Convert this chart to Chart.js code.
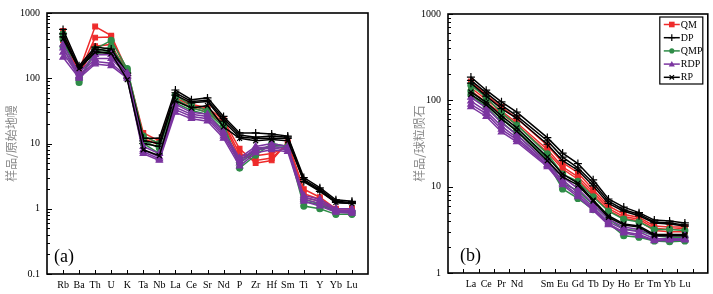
<!DOCTYPE html>
<html>
<head>
<meta charset="utf-8">
<script src="https://cdn.jsdelivr.net/npm/chart.js@4.4.0/dist/chart.umd.min.js"></script>
<style>
  body { margin: 0; background: #fff; }
  #wrap { position: relative; width: 713px; height: 294px; }
  #ca { position: absolute; left: 0; top: 0; }
  #cb { position: absolute; left: 380px; top: 0; }
</style>
</head>
<body>
<div id="wrap">
  <canvas id="ca" width="380" height="294"></canvas>
  <canvas id="cb" width="333" height="294"></canvas>
</div>
<script>
// categories
const spiderLabels = ['Rb','Ba','Th','U','K','Ta','Nb','La','Ce','Sr','Nd','P','Zr','Hf','Sm','Ti','Y','Yb','Lu'];
const reeLabels = ['La','Ce','Pr','Nd','Sm','Eu','Gd','Tb','Dy','Ho','Er','Tm','Yb','Lu'];

// (a) primitive-mantle normalised, one row per sample
const qmSpider = [
  [530, 130, 620, 450, 130, 14.5, 11, 55, 40, 35, 23, 8.3, 5.0, 5.5, 10.5, 2.0, 1.5, 1.0, 1.0],
  [450, 120, 420, 430, 120, 13, 10, 50, 38, 33, 21, 7.0, 5.5, 6.0, 10, 1.7, 1.4, 0.95, 0.95],
  [380, 115, 310, 330, 115, 12, 9.5, 45, 36, 30, 20, 6.0, 6.5, 7.0, 9.0, 1.5, 1.3, 0.9, 0.9]
];
const dpSpider = [
  [560, 155, 300, 280, 120, 12, 12, 66, 47, 50, 26, 14.5, 14.5, 14, 13, 3.0, 2.1, 1.37, 1.3],
  [480, 145, 280, 260, 110, 11, 10, 60, 44, 46, 24, 13.5, 12.5, 13, 12.5, 2.8, 2.0, 1.3, 1.25],
  [430, 140, 260, 240, 100, 10, 9, 55, 42, 44, 22, 12.5, 12, 12, 12, 2.6, 1.85, 1.25, 1.2]
];
const qmpSpider = [
  [480, 86, 280, 380, 140, 13, 10, 55, 38, 32, 20, 4.2, 6.6, 10, 9.0, 1.1, 1.0, 0.82, 0.82],
  [400, 95, 260, 300, 130, 11, 8.5, 48, 35, 30, 18, 5.0, 7.5, 9.5, 9.0, 1.3, 1.15, 0.9, 0.88],
  [300, 100, 240, 260, 120, 10, 7, 42, 32, 28, 16, 5.5, 8.0, 9.0, 8.5, 1.4, 1.2, 0.92, 0.9]
];
const rdpSpider = [
  [330, 120, 230, 230, 120, 9, 7, 40, 30, 28, 15, 6.0, 9.0, 10, 9.0, 1.6, 1.4, 1.0, 1.0],
  [290, 110, 200, 200, 110, 8, 6.2, 36, 28, 26, 14, 5.5, 8.5, 9.0, 8.5, 1.5, 1.3, 0.95, 0.95],
  [250, 105, 180, 170, 105, 7.5, 5.8, 33, 26, 24, 13, 5.0, 8.0, 8.5, 8.0, 1.4, 1.2, 0.92, 0.9],
  [210, 100, 165, 155, 100, 7, 5.5, 30, 24, 22, 12, 4.5, 7.2, 8.0, 7.5, 1.3, 1.1, 0.88, 0.85]
];
const rpSpider = [
  [400, 140, 250, 240, 95, 8, 6.5, 45, 35, 38, 18, 12, 11, 11.5, 11, 2.7, 1.9, 1.25, 1.2]
];

// (b) chondrite normalised REE
const qmRee = [
  [165, 115, 84, 62, 30, 19, 14.5, 9.2, 6.0, 4.8, 4.4, 3.5, 3.4, 3.4],
  [140, 102, 75, 55, 27, 17, 13, 8.6, 5.6, 4.5, 4.2, 3.3, 3.2, 3.3],
  [130, 95, 70, 52, 25, 16, 12.2, 8.0, 5.3, 4.3, 4.0, 3.1, 3.0, 3.0]
];
const dpRee = [
  [186, 131, 96, 73, 37, 24.5, 18.5, 12, 7.2, 5.8, 5.0, 4.1, 4.0, 3.8],
  [170, 122, 88, 66, 34, 22, 16.5, 11, 6.8, 5.4, 4.8, 3.9, 3.8, 3.6],
  [158, 112, 80, 62, 31, 20, 15.5, 10.2, 6.4, 5.2, 4.6, 3.8, 3.7, 3.5]
];
const qmpRee = [
  [150, 108, 72, 52, 24, 14, 11.5, 7.6, 5.2, 4.2, 3.9, 3.2, 3.2, 3.1],
  [128, 92, 62, 45, 21, 11, 9.0, 6.2, 4.2, 3.2, 3.1, 2.7, 2.6, 2.6],
  [115, 84, 56, 40, 19, 9.4, 7.3, 5.4, 3.8, 2.7, 2.6, 2.35, 2.3, 2.35]
];
const rdpRee = [
  [108, 82, 55, 40, 19, 13, 9.5, 6.3, 4.2, 3.4, 3.2, 2.7, 2.7, 2.7],
  [98, 75, 50, 37, 18, 12, 8.5, 5.8, 3.9, 3.2, 3.0, 2.5, 2.5, 2.5],
  [90, 70, 46, 35, 17.5, 11, 8.0, 5.5, 3.7, 3.0, 2.8, 2.4, 2.45, 2.45],
  [84, 65, 43, 33, 17, 10.5, 7.6, 5.3, 3.6, 2.9, 2.7, 2.35, 2.4, 2.4]
];
const rpRee = [
  [117, 89, 61, 44, 20, 13, 10.4, 6.8, 4.4, 3.6, 3.4, 2.7, 2.7, 2.7],
  [125, 95, 66, 48, 22, 14, 11, 7.0, 4.6, 3.7, 3.5, 2.8, 2.8, 2.8]
];

const groups = [
  { name: 'QM',  color: '#ee2b2b', style: 'rect',     r: 3.3, order: 5, spider: qmSpider,  ree: qmRee },
  { name: 'DP',  color: '#000000', style: 'cross',    r: 4,   order: 3, spider: dpSpider,  ree: dpRee },
  { name: 'QMP', color: '#2f8c48', style: 'circle',   r: 3,   order: 4, spider: qmpSpider, ree: qmpRee },
  { name: 'RDP', color: '#7b35a0', style: 'triangle', r: 3.6, order: 2, spider: rdpSpider, ree: rdpRee },
  { name: 'RP',  color: '#000000', style: 'crossRot', r: 3.5, order: 1, spider: rpSpider,  ree: rpRee }
];

const serif = "'Liberation Serif', 'Times New Roman', serif";
const cjk = "'Noto Sans CJK SC', sans-serif";

function makeSets(key, toRow) {
  const out = [];
  groups.forEach(g => {
    g[key].forEach(row => {
      out.push({
        label: g.name,
        data: toRow(row),
        borderColor: g.color,
        backgroundColor: g.color,
        pointBackgroundColor: g.color,
        pointBorderColor: g.color,
        pointStyle: g.style,
        pointRadius: g.r,
        pointBorderWidth: 1.2,
        borderWidth: 1.5,
        tension: 0,
        spanGaps: true,
        order: g.order
      });
    });
  });
  return out;
}

function logTicks(lo, hi) {
  const t = [];
  for (let e = lo; e < hi; e++) {
    for (let m = 1; m < 10; m++) t.push({ value: +(m * Math.pow(10, e)).toPrecision(3) });
  }
  t.push({ value: Math.pow(10, hi) });
  return t;
}
const isDecade = v => Math.abs(Math.log10(v) - Math.round(Math.log10(v))) < 1e-9;

function drawMarker(ctx, style, x, y, r, color) {
  ctx.save();
  ctx.fillStyle = color; ctx.strokeStyle = color; ctx.lineWidth = 1.2;
  ctx.beginPath();
  if (style === 'rect') { ctx.fillRect(x - r, y - r, 2 * r, 2 * r); }
  else if (style === 'circle') { ctx.arc(x, y, r, 0, Math.PI * 2); ctx.fill(); }
  else if (style === 'triangle') {
    ctx.moveTo(x, y - r); ctx.lineTo(x + r, y + r * 0.8); ctx.lineTo(x - r, y + r * 0.8); ctx.closePath(); ctx.fill();
  } else if (style === 'cross') {
    ctx.moveTo(x - r, y); ctx.lineTo(x + r, y); ctx.moveTo(x, y - r); ctx.lineTo(x, y + r); ctx.stroke();
  } else if (style === 'crossRot') {
    const d = r * 0.75;
    ctx.moveTo(x - d, y - d); ctx.lineTo(x + d, y + d); ctx.moveTo(x + d, y - d); ctx.lineTo(x - d, y + d); ctx.stroke();
  }
  ctx.restore();
}

// frame, inward ticks, panel letter and (optionally) legend
const framePlugin = {
  id: 'frame',
  afterDraw(chart, args, opts) {
    const { ctx, chartArea: a, scales } = chart;
    ctx.save();
    ctx.strokeStyle = '#000';
    ctx.lineWidth = 1;
    ctx.beginPath();
    scales.y.ticks.forEach(t => {
      const py = Math.round(scales.y.getPixelForValue(t.value)) + 0.5;
      const len = isDecade(t.value) ? 5 : 3;
      ctx.moveTo(a.left, py); ctx.lineTo(a.left + len, py);
    });
    opts.xTicks.forEach(v => {
      const px = Math.round(scales.x.getPixelForValue(v)) + 0.5;
      ctx.moveTo(px, a.bottom); ctx.lineTo(px, a.bottom - 4);
    });
    ctx.stroke();
    ctx.lineWidth = 1.6;
    ctx.strokeRect(a.left, a.top, a.right - a.left, a.bottom - a.top);
    ctx.fillStyle = '#000';
    ctx.font = '18px ' + serif;
    ctx.textBaseline = 'middle';
    ctx.fillText(opts.letter, a.left + opts.letterDx, a.bottom - 17);
    if (opts.legend) {
      const w = 43, h = 67;
      const x0 = a.right - 5 - w, y0 = a.top + 3;
      ctx.fillStyle = '#fff';
      ctx.fillRect(x0, y0, w, h);
      ctx.lineWidth = 1.2;
      ctx.strokeRect(x0, y0, w, h);
      ctx.font = '10px ' + serif;
      groups.forEach((g, i) => {
        const yy = y0 + 7.5 + i * 13.2;
        ctx.strokeStyle = g.color; ctx.lineWidth = 1.5;
        ctx.beginPath(); ctx.moveTo(x0 + 4, yy); ctx.lineTo(x0 + 20, yy); ctx.stroke();
        drawMarker(ctx, g.style, x0 + 12, yy, g.r * 0.85, g.color);
        ctx.fillStyle = '#000';
        ctx.fillText(g.name, x0 + 21, yy + 0.5);
      });
    }
    ctx.restore();
  }
};

function yAxis(lo, hi, width, title, titlePad) {
  return {
    type: 'logarithmic',
    min: Math.pow(10, lo),
    max: Math.pow(10, hi),
    afterBuildTicks: s => { s.ticks = logTicks(lo, hi); },
    afterFit: s => { s.width = width; },
    grid: { display: false, drawTicks: false },
    border: { display: false },
    ticks: {
      autoSkip: false,
      padding: 7,
      color: '#000',
      font: { family: serif, size: 10 },
      callback: v => isDecade(v) ? String(v) : ''
    },
    title: {
      display: true,
      text: title,
      color: '#8a8a8a',
      font: { family: cjk, size: 12 },
      padding: { top: titlePad, bottom: 0 }
    }
  };
}

function xAxis(labels, offset, height) {
  return {
    type: 'category',
    labels: labels,
    offset: offset,
    afterFit: s => { s.height = height; },
    grid: { display: false, drawTicks: false },
    border: { display: false },
    ticks: {
      autoSkip: false,
      maxRotation: 0,
      padding: 5,
      color: '#000',
      font: { family: serif, size: 10 }
    }
  };
}

// panel (a): positions 1..19 on a 0..20 axis
const aLabels = [''].concat(spiderLabels, ['']);
new Chart(document.getElementById('ca'), {
  type: 'line',
  data: {
    labels: aLabels,
    datasets: makeSets('spider', row => [null].concat(row, [null]))
  },
  options: {
    responsive: false,
    animation: false,
    layout: { padding: { left: 0, top: 12, right: 12, bottom: 0 } },
    plugins: {
      legend: { display: false },
      tooltip: { enabled: false },
      frame: { letter: '(a)', letterDx: 7, legend: false, xTicks: spiderLabels.map((_, i) => i + 1) }
    },
    scales: {
      x: xAxis(aLabels, false, 20),
      y: yAxis(-1, 3, 47, '样品/原始地幔', 4)
    }
  },
  plugins: [framePlugin]
});

// panel (b): one empty slot each side and a gap for Pm
const bLabels = [''].concat(reeLabels.slice(0, 4), [''], reeLabels.slice(4), ['']);
const bTicks = [];
for (let i = 1; i < bLabels.length; i++) bTicks.push(i - 0.5);
new Chart(document.getElementById('cb'), {
  type: 'line',
  data: {
    labels: bLabels,
    datasets: makeSets('ree', row => [null].concat(row.slice(0, 4), [null], row.slice(4), [null]))
  },
  options: {
    responsive: false,
    animation: false,
    layout: { padding: { left: 0, top: 14, right: 5, bottom: 0 } },
    plugins: {
      legend: { display: false },
      tooltip: { enabled: false },
      frame: { letter: '(b)', letterDx: 12, legend: true, xTicks: bTicks }
    },
    scales: {
      x: xAxis(bLabels, true, 21),
      y: yAxis(0, 3, 68, '样品/球粒陨石', 32)
    }
  },
  plugins: [framePlugin]
});
</script>
</body>
</html>
